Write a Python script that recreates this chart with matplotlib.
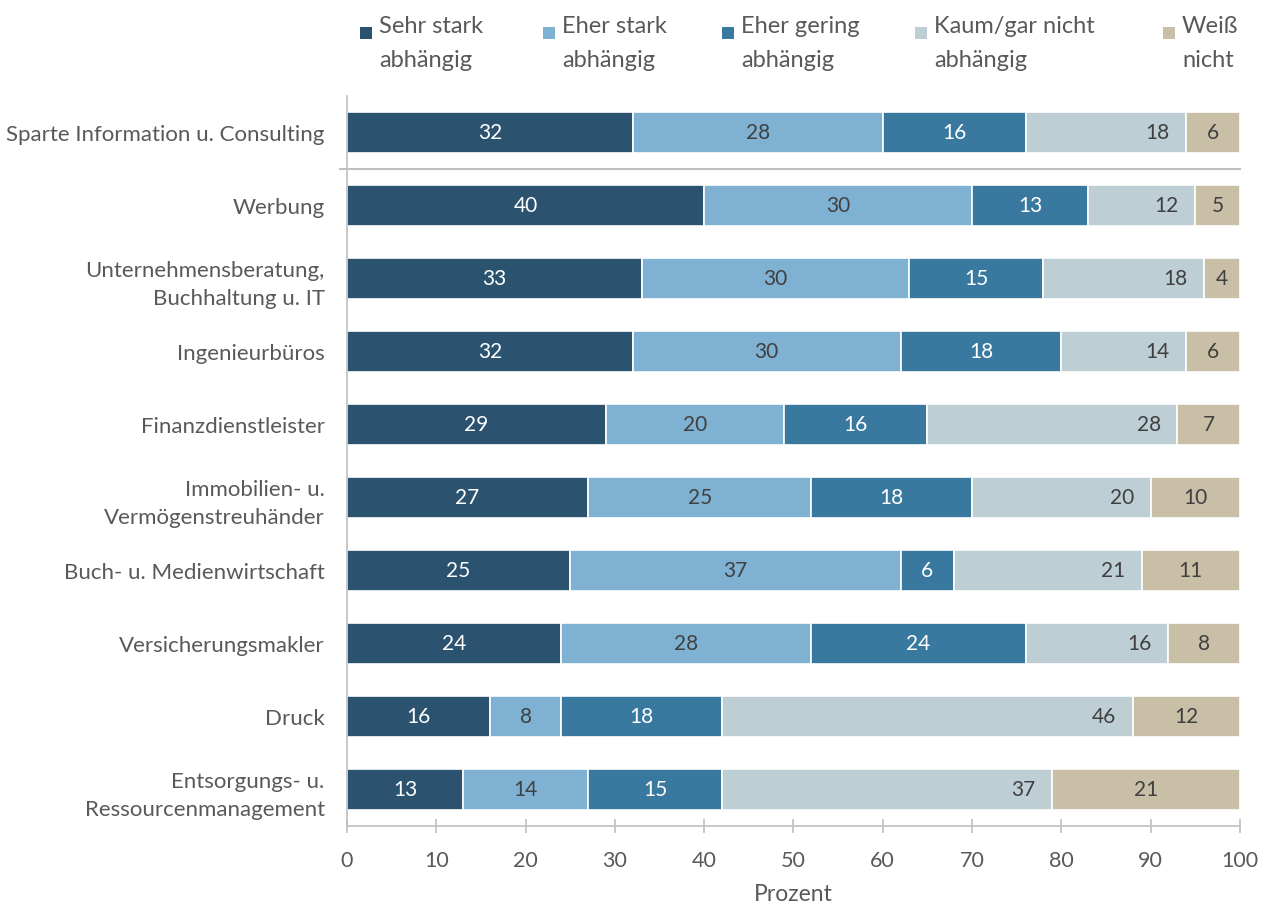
import matplotlib.pyplot as plt
from matplotlib.patches import Rectangle
import numpy as np

plt.rcParams['font.family'] = ['Lato', 'DejaVu Sans']

branchen = ['Sparte Information u. Consulting', 'Werbung',
            'Unternehmensberatung,\nBuchhaltung u. IT', 'Ingenieurbüros',
            'Finanzdienstleister', 'Immobilien- u.\nVermögenstreuhänder',
            'Buch- u. Medienwirtschaft', 'Versicherungsmakler', 'Druck',
            'Entsorgungs- u.\nRessourcenmanagement']

sehr_stark = [32, 40, 33, 32, 29, 27, 25, 24, 16, 13]
eher_stark = [28, 30, 30, 30, 20, 25, 37, 28, 8, 14]
eher_gering = [16, 13, 15, 18, 16, 18, 6, 24, 18, 15]
kaum_nicht = [18, 12, 18, 14, 28, 20, 21, 16, 46, 37]
weiss_nicht = [6, 5, 4, 6, 7, 10, 11, 8, 12, 21]

kategorien = ['Sehr stark\nabhängig', 'Eher stark\nabhängig', 'Eher gering\nabhängig',
              'Kaum/gar nicht\nabhängig', 'Weiß\nnicht']
farben = ['#2B5370', '#7FB1D2', '#3A799F', '#BDCED4', '#C9BEA6']
textfarben = ['white', '#404040', 'white', '#404040', '#404040']

grau = '#595959'
linie = '#BFBFBF'

fig = plt.figure(figsize=(12.69, 9.04), dpi=100)
ax = fig.add_axes([0.2734, 0.0852, 0.7036, 0.8075])

y = np.arange(len(branchen))
serien = [sehr_stark, eher_stark, eher_gering, kaum_nicht, weiss_nicht]
links = np.zeros(len(branchen))
for i, werte in enumerate(serien):
    werte = np.array(werte)
    bars = ax.barh(y, werte, left=links, height=0.55, color=farben[i],
                   edgecolor='white', linewidth=1.2)
    if i == 3:
        # Kaum/gar nicht: Beschriftung rechtsbündig am Segmentende
        for yy, l, w in zip(y, links, werte):
            ax.annotate(str(w), (l + w, yy), xytext=(-12, 0),
                        textcoords='offset points', ha='right', va='center',
                        color=textfarben[i], fontsize=15)
    else:
        ax.bar_label(bars, labels=[str(v) for v in werte], label_type='center',
                     color=textfarben[i], fontsize=15)
    links += werte

ax.set_ylim(9.5, -0.5)
ax.set_xlim(0, 100)
ax.set_yticks(y)
ax.set_yticklabels(branchen, fontsize=16, color=grau, linespacing=1.5)
ax.tick_params(axis='y', length=0, pad=16)
ax.set_xticks(np.arange(0, 101, 10))
ax.tick_params(axis='x', direction='inout', length=10, width=1.2, color=linie,
               labelcolor=grau, labelsize=15.5, pad=12)
ax.set_xlabel('Prozent', fontsize=16.5, color=grau, labelpad=10)

for s in ['top', 'right']:
    ax.spines[s].set_visible(False)
for s in ['left', 'bottom']:
    ax.spines[s].set_color(linie)
    ax.spines[s].set_linewidth(1.2)

# Trennlinie unter der Gesamtsparte
ax.axhline(0.5, xmin=-0.008, xmax=1, color=linie, linewidth=1.5, clip_on=False)

# Legende oben
leg_x = [0.2837, 0.4279, 0.5690, 0.7210, 0.9165]
for xl, lab, fc in zip(leg_x, kategorien, farben):
    fig.patches.append(Rectangle((xl, 0.9560), 0.0095, 0.0135, transform=fig.transFigure,
                                 facecolor=fc, edgecolor='none'))
    fig.text(xl + 0.0150, 0.9825, lab, ha='left', va='top', fontsize=17,
             color=grau, linespacing=1.75)

fig.savefig('out.png', dpi=100)
